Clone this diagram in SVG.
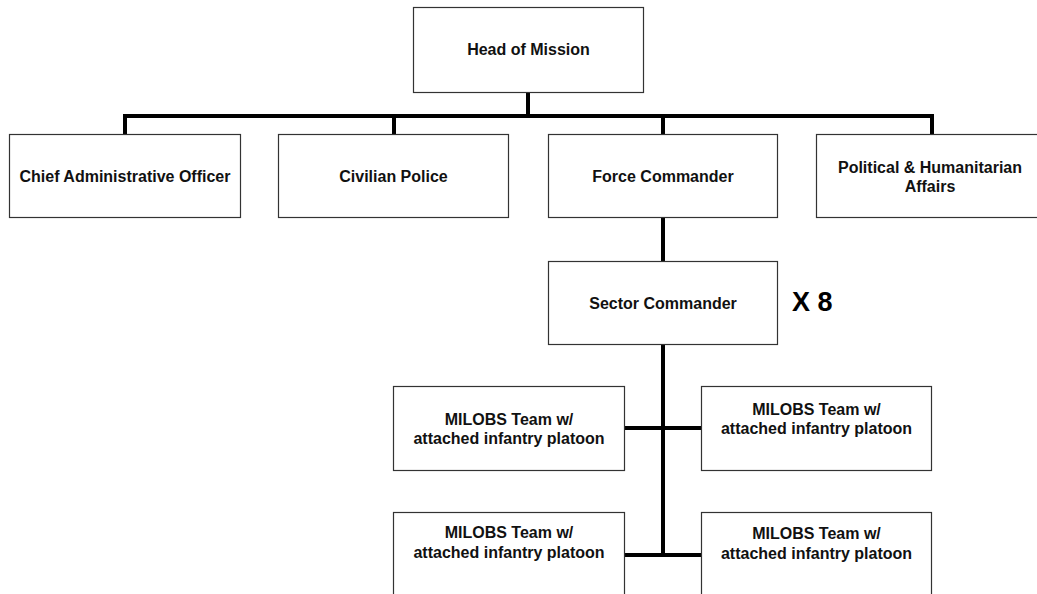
<svg xmlns="http://www.w3.org/2000/svg" width="1037" height="594" viewBox="0 0 1037 594">
<style>
.box{fill:#fff;stroke:#333;stroke-width:1.2}
.t{font-family:"Liberation Sans",Arial,sans-serif;font-weight:bold;font-size:16px;fill:#111;text-anchor:middle}
.c{stroke:#000;stroke-width:4;fill:none;stroke-linecap:square}
</style>
<rect width="1037" height="594" fill="#fff"/>
<g id="connectors">
<path class="c" d="M528 92V116M125 116H932M125 116V134M394 116V134M663 116V134M932 116V134"/>
<path class="c" d="M663 217V261M663 344V555"/>
<path class="c" d="M626 428H700M626 555H700"/>
</g>
<g id="head"><rect class="box" x="413.5" y="7.5" width="230" height="85"/><text class="t" x="528.5" y="55">Head of Mission</text></g>
<g id="cao"><rect class="box" x="9.5" y="134.5" width="231" height="83"/><text class="t" x="125" y="182">Chief Administrative Officer</text></g>
<g id="civpol"><rect class="box" x="278.5" y="134.5" width="230" height="83"/><text class="t" x="393.5" y="182">Civilian Police</text></g>
<g id="force"><rect class="box" x="548.5" y="134.5" width="229" height="83"/><text class="t" x="663" y="182">Force Commander</text></g>
<g id="political"><rect class="box" x="816.5" y="134.5" width="230" height="83"/><text class="t" x="930" y="173">Political &amp; Humanitarian</text><text class="t" x="930" y="192">Affairs</text></g>
<g id="sector"><rect class="box" x="548.5" y="261.5" width="229" height="83"/><text class="t" x="663" y="309">Sector Commander</text></g>
<g id="x8"><text x="792" y="311" font-family="'Liberation Sans',Arial,sans-serif" font-weight="bold" font-size="27" fill="#000">X 8</text></g>
<g id="milobs1"><rect class="box" x="393.5" y="386.5" width="231" height="84"/><text class="t" x="509" y="425">MILOBS Team w/</text><text class="t" x="509" y="444">attached infantry platoon</text></g>
<g id="milobs2"><rect class="box" x="701.5" y="386.5" width="230" height="84"/><text class="t" x="816.5" y="415">MILOBS Team w/</text><text class="t" x="816.5" y="434">attached infantry platoon</text></g>
<g id="milobs3"><rect class="box" x="393.5" y="512.5" width="231" height="100"/><text class="t" x="509" y="538">MILOBS Team w/</text><text class="t" x="509" y="558">attached infantry platoon</text></g>
<g id="milobs4"><rect class="box" x="701.5" y="512.5" width="230" height="100"/><text class="t" x="816.5" y="539">MILOBS Team w/</text><text class="t" x="816.5" y="559">attached infantry platoon</text></g>
</svg>
